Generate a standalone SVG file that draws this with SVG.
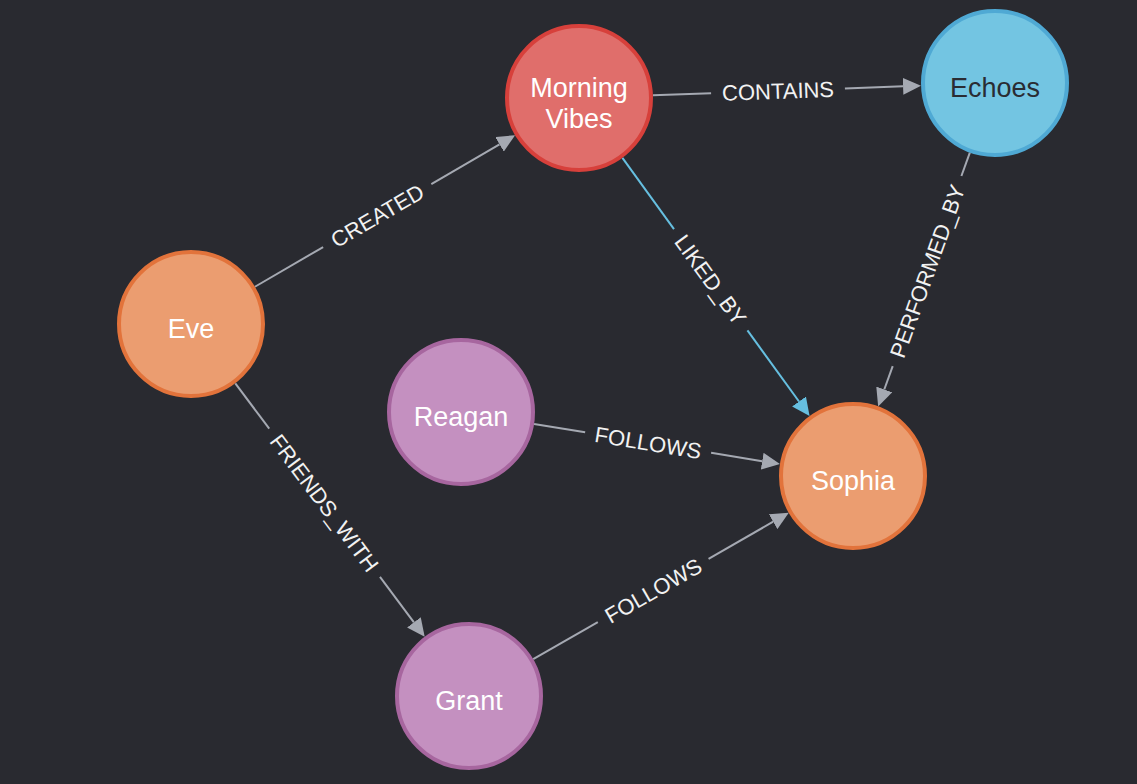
<svg xmlns="http://www.w3.org/2000/svg" width="1137" height="784" viewBox="0 0 1137 784">
<style>
.bg{fill:#292a30}
.node circle{stroke-width:4}
.red circle{fill:#e06e6b;stroke:#d7403b}
.blue circle{fill:#73c5e2;stroke:#4fa9d4}
.orange circle{fill:#eb9d70;stroke:#e2733b}
.purple circle{fill:#c490c0;stroke:#a7669f}
.nlabel{font-family:"Liberation Sans",Arial,sans-serif;font-size:27px;fill:#ffffff;text-anchor:middle}
.dark{fill:#2a2c33}
.edge{fill:none;stroke:#a5a9b2;stroke-width:2}
.edge.liked{stroke:#66bfe0}
.elabel{font-family:"Liberation Sans",Arial,sans-serif;font-size:22px;fill:#f2f2f2;text-anchor:middle}
</style>
<defs>
<marker id="arr" markerUnits="userSpaceOnUse" markerWidth="18" markerHeight="17" refX="0" refY="8.5" orient="auto" viewBox="0 0 18 17"><path d="M0,0 L18,8.5 L0,17 z" fill="#a5a9b2"/></marker>
<marker id="arrb" markerUnits="userSpaceOnUse" markerWidth="18" markerHeight="17" refX="0" refY="8.5" orient="auto" viewBox="0 0 18 17"><path d="M0,0 L18,8.5 L0,17 z" fill="#66bfe0"/></marker>
</defs>
<rect class="bg" x="0" y="0" width="1137" height="784"/>
<g id="connectors">
<g id="e-created">
<path class="edge" d="M254.95,286.75 L323.13,247.04"/>
<path class="edge" d="M431.31,184.02 L499.50,144.31" marker-end="url(#arr)"/>
<text class="elabel" transform="translate(377.22,215.53) rotate(-30.22)" x="0" y="8">CREATED</text>
</g>
<g id="e-contains">
<path class="edge" d="M652.95,95.33 L711.1,93.2"/>
<path class="edge" d="M844.9,88.4 L903.06,86.32" marker-end="url(#arr)"/>
<text class="elabel" transform="translate(778.0,90.8) rotate(-2.07)" x="0" y="8">CONTAINS</text>
</g>
<g id="e-liked">
<path class="edge liked" d="M622.43,157.91 L673.98,229.04"/>
<path class="edge liked" d="M747.46,330.40 L799.01,401.52" marker-end="url(#arrb)"/>
<text class="elabel" transform="translate(710.72,279.72) rotate(54.07)" x="0" y="8">LIKED_BY</text>
</g>
<g id="e-performed">
<path class="edge" d="M969.85,152.60 L961.40,176.0"/>
<path class="edge" d="M892.72,366.08 L884.27,389.47" marker-end="url(#arr)"/>
<text class="elabel" transform="translate(927.06,271.04) rotate(-70.13)" x="0" y="8">PERFORMED_BY</text>
</g>
<g id="e-friends">
<path class="edge" d="M235.30,383.28 L269.24,428.69"/>
<path class="edge" d="M379.98,576.89 L413.92,622.30" marker-end="url(#arr)"/>
<text class="elabel" transform="translate(324.61,502.79) rotate(53.23)" x="0" y="8">FRIENDS_WITH</text>
</g>
<g id="e-follows1">
<path class="edge" d="M534.03,423.92 L585.15,432.27"/>
<path class="edge" d="M711.09,452.83 L762.20,461.18" marker-end="url(#arr)"/>
<text class="elabel" transform="translate(648.12,442.55) rotate(9.27)" x="0" y="8">FOLLOWS</text>
</g>
<g id="e-follows2">
<path class="edge" d="M533.21,659.21 L597.83,622.20"/>
<path class="edge" d="M708.55,558.76 L773.17,521.74" marker-end="url(#arr)"/>
<text class="elabel" transform="translate(653.19,590.48) rotate(-29.81)" x="0" y="8">FOLLOWS</text>
</g>
</g>
<g id="n-morning" class="node red">
<circle cx="579" cy="98" r="72"/>
<text class="nlabel" x="579" y="97">Morning</text>
<text class="nlabel" x="579" y="127.5">Vibes</text>
</g>
<g id="n-echoes" class="node blue">
<circle cx="995" cy="83" r="72"/>
<text class="nlabel dark" x="995" y="96.7">Echoes</text>
</g>
<g id="n-eve" class="node orange">
<circle cx="191" cy="324" r="72"/>
<text class="nlabel" x="191" y="337.7">Eve</text>
</g>
<g id="n-reagan" class="node purple">
<circle cx="461" cy="412" r="72"/>
<text class="nlabel" x="461" y="425.7">Reagan</text>
</g>
<g id="n-sophia" class="node orange">
<circle cx="853" cy="476" r="72"/>
<text class="nlabel" x="853" y="489.7">Sophia</text>
</g>
<g id="n-grant" class="node purple">
<circle cx="469" cy="696" r="72"/>
<text class="nlabel" x="469" y="709.7">Grant</text>
</g>
</svg>
